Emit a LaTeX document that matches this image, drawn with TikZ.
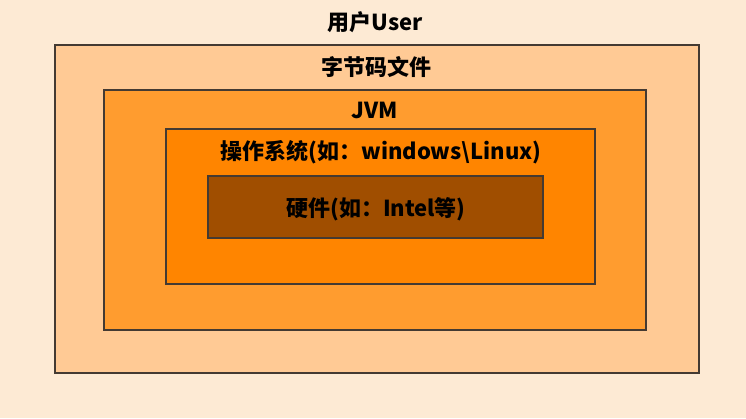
\documentclass[tikz,border=0pt]{standalone}
\usepackage{fontspec}
\setmainfont{Noto Sans CJK SC}
\definecolor{bgpeach}{HTML}{FDEAD4}
\definecolor{userfill}{HTML}{FFCA95}
\definecolor{jvmfill}{HTML}{FF9C2F}
\definecolor{osfill}{HTML}{FF8500}
\definecolor{hwfill}{HTML}{A04E00}
\definecolor{boxline}{HTML}{443A32}
\tikzset{
  layer/.style={draw=boxline,line width=1.6pt},
  ttl/.style={font=\bfseries\fontsize{22}{25}\selectfont,text=black,inner sep=0pt}
}
\begin{document}
\begin{tikzpicture}[x=1pt,y=-1pt]
    % background
    \fill[bgpeach] (0,0) rectangle (746,418);
    \useasboundingbox (0,0) rectangle (746,418);
    % nested layers
    \filldraw[layer,fill=userfill] (55,45) rectangle (699,373);
    \filldraw[layer,fill=jvmfill] (104,90) rectangle (646,330);
    \filldraw[layer,fill=osfill] (166,129) rectangle (595,284);
    \filldraw[layer,fill=hwfill] (208,176) rectangle (543,238);
    % labels
    \node[ttl](user) at (375,22) {用户User};
    \node[ttl](bytecode) at (376,67) {字节码文件};
    \node[ttl](jvm) at (375,110) {JVM};
    \node[ttl](os) at (381,152) {操作系统(如：windows\textbackslash Linux)};
    \node[ttl](hw) at (376,209) {硬件(如：Intel等)};
\end{tikzpicture}
\end{document}
